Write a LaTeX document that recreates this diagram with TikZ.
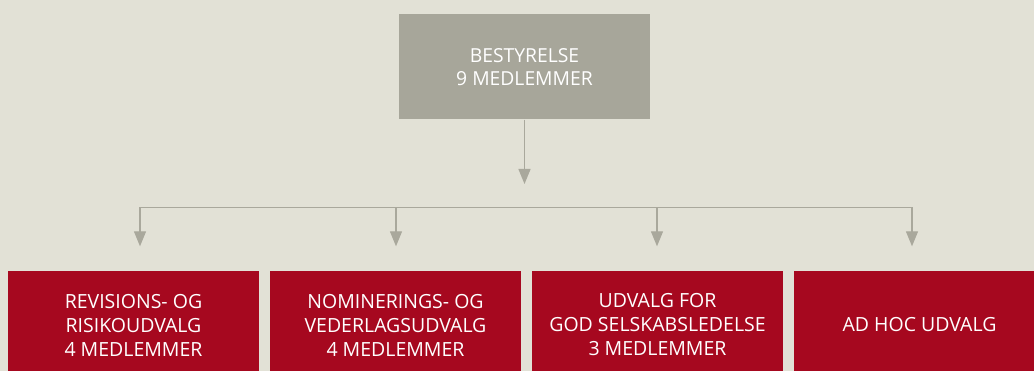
\documentclass[tikz,border=0pt]{standalone}
\usepackage{fontspec}
\setmainfont{Open Sans}
\usetikzlibrary{arrows.meta}
\definecolor{bgc}{HTML}{E2E1D6}
\definecolor{boardc}{HTML}{A7A69A}
\definecolor{redc}{HTML}{A6081F}
\definecolor{linec}{HTML}{A9A89C}
\tikzset{
  board/.style={fill=boardc, draw=none, minimum width=251pt, minimum height=105.5pt, inner sep=0pt, align=center, text=white, font=\fontsize{19.3}{23}\selectfont},
  cmte/.style={fill=redc, draw=none, minimum width=251pt, minimum height=108pt, inner sep=0pt, align=center, text=white, font=\fontsize{19.5}{24}\selectfont},
  conn/.style={draw=linec, line width=1.3pt},
  arr/.style={conn, -{Triangle[width=12pt,length=15pt]}}
}
\begin{document}
\begin{tikzpicture}[x=1pt,y=-1pt]
\useasboundingbox (0,0) rectangle (1034,371);
\fill[bgc] (0,0) rectangle (1034,371);
\clip (0,0) rectangle (1034,371);
\node[board] (top) at (524.5,66.75) {BESTYRELSE\\9 MEDLEMMER};
\coordinate (topend) at (top.south |- 0,184);
\draw[arr] (top.south) -- (topend);
\node[cmte] (c1) at (133.5,325) {REVISIONS- OG\\RISIKOUDVALG\\4 MEDLEMMER};
\node[cmte] (c2) at (395.5,325) {NOMINERINGS- OG\\VEDERLAGSUDVALG\\4 MEDLEMMER};
\node[cmte] (c3) at (657.5,325) {UDVALG FOR\\GOD SELSKABSLEDELSE\\3 MEDLEMMER};
\node[cmte] (c4) at (919.5,325) {AD HOC UDVALG};
\coordinate (b1) at (140,207.3);
\coordinate (b2) at (396,207.3);
\coordinate (b3) at (657,207.3);
\coordinate (b4) at (912,207.3);
\draw[conn] (b1) -- (b4);
\foreach \i in {1,2,3,4}{
  \draw[arr] (b\i) -- ++(0,39);
}
\end{tikzpicture}
\end{document}
